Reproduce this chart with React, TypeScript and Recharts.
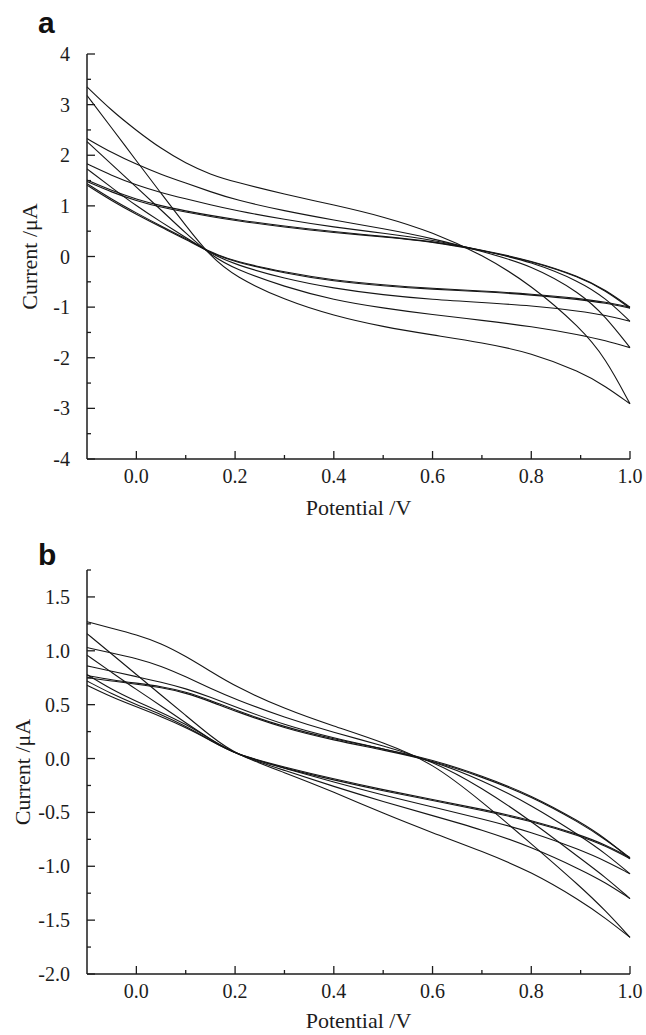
import { LineChart, Line, XAxis, YAxis, Label } from 'recharts'

// potential grid (V) shared by every sweep branch
const potential = [-0.1, -0.05, 0, 0.05, 0.1, 0.15, 0.2, 0.3, 0.4, 0.5, 0.6, 0.7, 0.8, 0.9, 0.95, 1.0]

// panel a — current (µA), upper and lower branch of each cycle
const aUp1 = [3.35, 2.88, 2.49, 2.13, 1.84, 1.62, 1.47, 1.23, 1.02, 0.79, 0.48, 0.04, -0.56, -1.41, -2.0, -2.91]
const aLo1 = [3.18, 2.54, 1.89, 1.25, 0.61, 0.0, -0.4, -0.86, -1.17, -1.39, -1.55, -1.7, -1.9, -2.28, -2.56, -2.91]
const aUp2 = [2.33, 2.05, 1.82, 1.62, 1.45, 1.28, 1.12, 0.9, 0.72, 0.55, 0.36, 0.1, -0.17, -0.72, -1.18, -1.8]
const aLo2 = [2.27, 1.82, 1.37, 0.92, 0.46, 0.03, -0.25, -0.6, -0.86, -1.02, -1.15, -1.26, -1.38, -1.55, -1.66, -1.8]
const aUp3 = [1.83, 1.6, 1.41, 1.26, 1.14, 1.02, 0.91, 0.73, 0.58, 0.46, 0.33, 0.12, -0.1, -0.5, -0.82, -1.28]
const aLo3 = [1.73, 1.36, 1.0, 0.68, 0.38, 0.06, -0.16, -0.44, -0.63, -0.76, -0.85, -0.91, -0.97, -1.08, -1.16, -1.28]
const aUp4 = [1.51, 1.3, 1.13, 1.0, 0.9, 0.81, 0.73, 0.6, 0.49, 0.4, 0.3, 0.13, -0.08, -0.4, -0.66, -1.0]
const aLo4 = [1.44, 1.13, 0.86, 0.6, 0.36, 0.08, -0.1, -0.31, -0.47, -0.56, -0.63, -0.68, -0.74, -0.83, -0.9, -1.0]
const aUp5 = [1.48, 1.27, 1.1, 0.97, 0.88, 0.79, 0.71, 0.58, 0.47, 0.39, 0.29, 0.12, -0.09, -0.41, -0.67, -1.02]
const aLo5 = [1.41, 1.1, 0.83, 0.58, 0.34, 0.07, -0.11, -0.33, -0.49, -0.58, -0.65, -0.69, -0.76, -0.85, -0.92, -1.02]

// panel b
const bUp1 = [1.27, 1.21, 1.15, 1.07, 0.95, 0.81, 0.67, 0.46, 0.3, 0.15, -0.04, -0.4, -0.79, -1.19, -1.41, -1.66]
const bLo1 = [1.16, 0.97, 0.78, 0.59, 0.4, 0.21, 0.04, -0.13, -0.31, -0.51, -0.69, -0.86, -1.05, -1.32, -1.48, -1.66]
const bUp2 = [1.03, 0.98, 0.93, 0.86, 0.76, 0.65, 0.55, 0.38, 0.24, 0.12, -0.02, -0.27, -0.58, -0.93, -1.1, -1.3]
const bLo2 = [0.96, 0.8, 0.64, 0.49, 0.33, 0.18, 0.04, -0.11, -0.26, -0.4, -0.53, -0.66, -0.82, -1.03, -1.15, -1.3]
const bUp3 = [0.86, 0.81, 0.76, 0.71, 0.65, 0.57, 0.48, 0.31, 0.19, 0.09, -0.02, -0.2, -0.43, -0.72, -0.88, -1.07]
const bLo3 = [0.78, 0.64, 0.53, 0.43, 0.32, 0.18, 0.04, -0.09, -0.22, -0.34, -0.45, -0.56, -0.68, -0.85, -0.95, -1.07]
const bUp4 = [0.75, 0.72, 0.69, 0.66, 0.61, 0.53, 0.44, 0.28, 0.17, 0.08, -0.02, -0.17, -0.35, -0.6, -0.75, -0.92]
const bLo4 = [0.72, 0.6, 0.5, 0.41, 0.3, 0.17, 0.04, -0.08, -0.19, -0.29, -0.38, -0.47, -0.57, -0.71, -0.8, -0.92]
const bUp5 = [0.77, 0.73, 0.7, 0.67, 0.62, 0.54, 0.45, 0.29, 0.18, 0.09, -0.01, -0.16, -0.34, -0.59, -0.74, -0.93]
const bLo5 = [0.68, 0.57, 0.48, 0.39, 0.29, 0.17, 0.04, -0.09, -0.2, -0.3, -0.39, -0.48, -0.58, -0.72, -0.81, -0.93]

// ticks
const xTicks = [0, 0.1, 0.2, 0.3, 0.4, 0.5, 0.6, 0.7, 0.8, 0.9, 1.0]
const aTicks = [-4, -3.5, -3, -2.5, -2, -1.5, -1, -0.5, 0, 0.5, 1, 1.5, 2, 2.5, 3, 3.5, 4]
const bTicks = [-2, -1.75, -1.5, -1.25, -1, -0.75, -0.5, -0.25, 0, 0.25, 0.5, 0.75, 1, 1.25, 1.5, 1.75]

const serif = '"Liberation Serif", "Times New Roman", serif'
const ink = '#1c1c1c'

const toPoints = (vals: number[]) => vals.map((y, i) => ({ x: potential[i], y }))

const XTick = ({ x, y, payload }: any) => {
  const v = payload.value
  const major = Math.round(v * 10) % 2 === 0
  return (
    <g>
      <line x1={x} x2={x} y1={y} y2={y - (major ? 8 : 4)} stroke={ink} strokeWidth={1.3} />
      {major && (
        <text x={x} y={y + 24} textAnchor="middle" fontFamily={serif} fontSize={20} fill={ink}>
          {v.toFixed(1)}
        </text>
      )}
    </g>
  )
}

const makeYTick = (isMajor: (v: number) => boolean, fmt: (v: number) => string) => ({ x, y, payload }: any) => {
  const v = payload.value
  const major = isMajor(v)
  return (
    <g>
      <line x1={x} x2={x + (major ? 8 : 4)} y1={y} y2={y} stroke={ink} strokeWidth={1.3} />
      {major && (
        <text x={x - 17} y={y + 7} textAnchor="end" fontFamily={serif} fontSize={20} fill={ink}>
          {fmt(v)}
        </text>
      )}
    </g>
  )
}

const ATick = makeYTick(v => Number.isInteger(v), v => String(v))
const BTick = makeYTick(v => Number.isInteger(v * 2), v => v.toFixed(1))

interface PanelProps {
  branches: number[][]
  yDomain: [number, number]
  yTicks: number[]
  YTickComp: any
  height: number
  marginTop: number
  yLabelOffset: number
  xLabelOffset: number
}

function Panel({ branches, yDomain, yTicks, YTickComp, height, marginTop, yLabelOffset, xLabelOffset }: PanelProps) {
  return (
    <LineChart width={646} height={height} margin={{ top: marginTop, right: 16, bottom: 0, left: 0 }}>
      <XAxis
        type="number"
        dataKey="x"
        domain={[-0.1, 1.0]}
        ticks={xTicks}
        interval={0}
        tickSize={0}
        tickMargin={0}
        tickLine={false}
        axisLine={{ stroke: ink, strokeWidth: 1.5 }}
        height={61}
        tick={<XTick />}
      >
        <Label value="Potential /V" position="insideBottom" offset={xLabelOffset}
          style={{ fontFamily: serif, fontSize: 22, fill: ink }} />
      </XAxis>
      <YAxis
        type="number"
        domain={yDomain}
        ticks={yTicks}
        interval={0}
        tickSize={0}
        tickMargin={0}
        tickLine={false}
        axisLine={{ stroke: ink, strokeWidth: 1.5 }}
        width={87}
        tick={<YTickComp />}
      >
        <Label value="Current /μA" angle={-90} position="insideLeft" offset={yLabelOffset}
          style={{ textAnchor: 'middle', fontFamily: serif, fontSize: 22, fill: ink }} />
      </YAxis>
      {branches.map((b, i) => (
        <Line key={i} data={toPoints(b)} dataKey="y" type="basis" stroke="#151515" strokeWidth={1.1}
          dot={false} activeDot={false} isAnimationActive={false} />
      ))}
    </LineChart>
  )
}

const letter = { position: 'absolute' as const, left: 38, fontFamily: '"Liberation Sans", Arial, sans-serif', fontWeight: 700, fontSize: 30, lineHeight: '30px', color: '#111' }

export default function App() {
  return (
    <div style={{ position: 'absolute', left: 0, top: 0, width: 646, height: 1035, background: '#fff' }}>
      <div style={{ position: 'absolute', left: 0, top: 0 }}>
        <Panel branches={[aUp1, aLo1, aUp2, aLo2, aUp3, aLo3, aUp4, aLo4, aUp5, aLo5]} yDomain={[-4, 4]} yTicks={aTicks}
          YTickComp={ATick} height={520} marginTop={54} yLabelOffset={29} xLabelOffset={5} />
      </div>
      <div style={{ position: 'absolute', left: 0, top: 520 }}>
        <Panel branches={[bUp1, bLo1, bUp2, bLo2, bUp3, bLo3, bUp4, bLo4, bUp5, bLo5]} yDomain={[-2, 1.75]} yTicks={bTicks}
          YTickComp={BTick} height={515} marginTop={50} yLabelOffset={22} xLabelOffset={7} />
      </div>
      <div style={{ ...letter, top: 8 }}>a</div>
      <div style={{ ...letter, top: 540 }}>b</div>
    </div>
  )
}
